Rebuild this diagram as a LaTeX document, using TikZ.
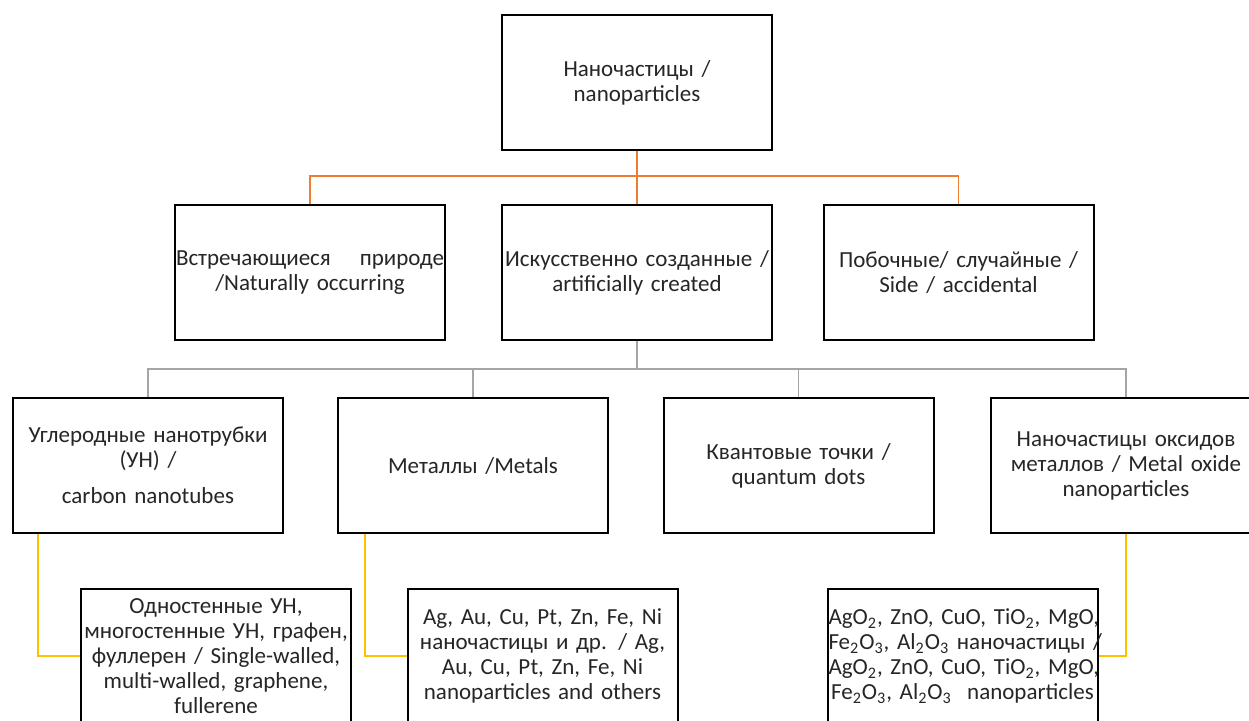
\documentclass[tikz,border=0pt]{standalone}
\usepackage{fontspec}
\setmainfont{Carlito}[WordSpace=0.85]
\usetikzlibrary{calc}
\definecolor{orangeln}{HTML}{ED7D31}
\definecolor{grayln}{HTML}{A5A5A5}
\definecolor{yellowln}{HTML}{FFC000}
\newcommand{\sbt}[1]{\textsubscript{#1}}
\begin{document}
\begin{tikzpicture}[x=0.5pt,y=-0.5pt,
  box/.style={draw=black, line width=1pt, minimum width=135pt, minimum height=67.5pt,
    inner xsep=1pt, inner ysep=2pt, text width=133pt, align=center,
    font=\fontsize{11.5}{12.5}\selectfont, text=black!85},
  lowbox/.style={box, minimum height=67pt},
  oline/.style={draw=orangeln, line width=0.75pt},
  gline/.style={draw=grayln, line width=0.75pt},
  yline/.style={draw=yellowln, line width=0.75pt}]
\clip (0,0) rectangle (1249,720);
\fill[white] (0,0) rectangle (1249,720);
% top
\node[box] (T) at (637,82.5) {Наночастицы /\\nanoparticles};
% level 2
\node[box, inner xsep=0.5pt, text width=134pt] (A) at (310,272.5) {\makebox[\linewidth][s]{Встречающиеся\hfill природе}\\/Naturally occurring};
\node[box] (B) at (637,272.5) {Искусственно созданные /\\artificially created};
\node[box] (C) at (958.5,272.5) {Побочные/ случайные /\\Side / accidental};
% level 3
\node[box] (D) at (148,465.5) {Углеродные нанотрубки\\(УН) /\\[5.5pt]carbon nanotubes};
\node[box] (E) at (473,465.5) {Металлы /Metals};
\node[box] (F) at (798.5,465.5) {Квантовые точки /\\quantum dots};
\node[box] (G) at (1126,465.5) {Наночастицы оксидов\\металлов / Metal oxide\\nanoparticles};
% level 4
\node[lowbox] (H) at (216,656) {Одностенные УН,\\многостенные УН, графен,\\фуллерен / Single-walled,\\multi-walled, graphene,\\fullerene};
\node[lowbox] (I) at (542.5,656) {Ag, Au, Cu, Pt, Zn, Fe, Ni\\наночастицы и др. / Ag,\\Au, Cu, Pt, Zn, Fe, Ni\\nanoparticles and others};
\node[lowbox, inner xsep=0.5pt, text width=134pt] (J) at (962.5,656) {\mbox{AgO\sbt{2}, ZnO, CuO, TiO\sbt{2}, MgO,}\\\mbox{Fe\sbt{2}O\sbt{3}, Al\sbt{2}O\sbt{3} наночастицы /}\\\mbox{AgO\sbt{2}, ZnO, CuO, TiO\sbt{2}, MgO,}\\\mbox{Fe\sbt{2}O\sbt{3}, Al\sbt{2}O\sbt{3}\ \ nanoparticles}};
% orange connectors
\coordinate (ob) at (637,176);
\draw[oline] (T.south) -- (B.north);
\draw[oline] (A.north) |- (ob) -| (C.north);
% gray connectors
\coordinate (gb) at (637,369);
\draw[gline] (B.south) -- (gb);
\draw[gline] (D.north) |- (gb) -| (G.north);
\draw[gline] (E.north) |- (gb);
\draw[gline] (F.north) |- (gb);
% yellow connectors
\draw[yline] ($(D.south west)+(26,0)$) |- (H.west);
\draw[yline] ($(E.south west)+(28,0)$) |- (I.west);
\draw[yline] (G.south) |- (J.east);
\end{tikzpicture}
\end{document}
